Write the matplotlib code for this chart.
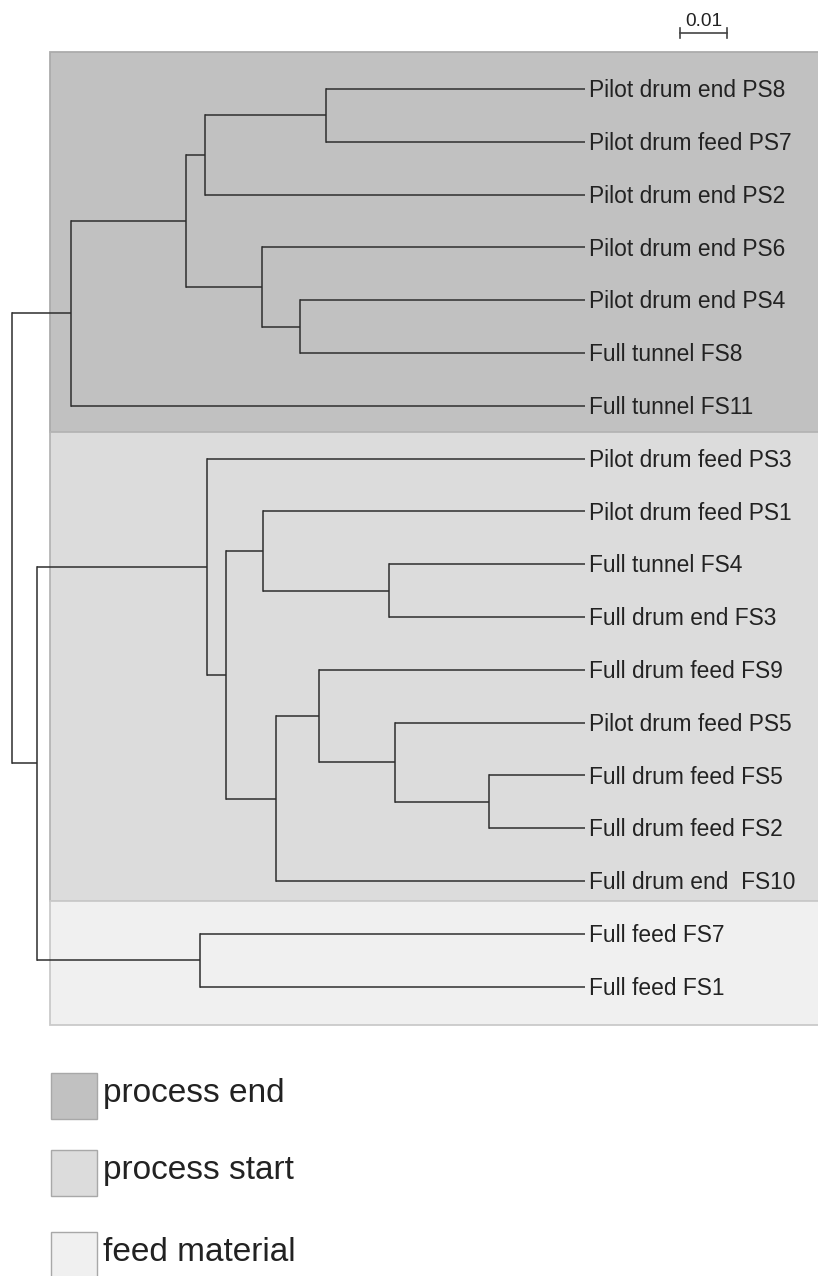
import matplotlib
matplotlib.use("Agg")
import matplotlib.pyplot as plt
from matplotlib.patches import Rectangle
from matplotlib.transforms import Affine2D

# ---------------- data ----------------
labels = [
    "Pilot drum end PS8", "Pilot drum feed PS7", "Pilot drum end PS2",
    "Pilot drum end PS6", "Pilot drum end PS4", "Full tunnel FS8",
    "Full tunnel FS11", "Pilot drum feed PS3", "Pilot drum feed PS1",
    "Full tunnel FS4", "Full drum end FS3", "Full drum feed FS9",
    "Pilot drum feed PS5", "Full drum feed FS5", "Full drum feed FS2",
    "Full drum end  FS10", "Full feed FS7", "Full feed FS1",
]
# linkage-style merges: ids < 18 are leaves, 18+i is the i-th merge
merge_left = [0, 18, 4, 3, 19, 22, 9, 8, 13, 12, 11, 28, 25, 7, 16, 31, 23]
merge_right = [1, 2, 5, 20, 21, 6, 10, 24, 14, 26, 27, 15, 29, 30, 17, 32, 33]
merge_height = [0.0551, 0.0809, 0.0606, 0.0687, 0.0849, 0.1094, 0.0417,
                0.0685, 0.0204, 0.0404, 0.0566, 0.0657, 0.0764, 0.0804,
                0.0819, 0.1166, 0.1219]

group_names = ["process end", "process start", "feed material"]
group_sizes = [7, 9, 2]
group_colors = ["#c1c1c1", "#dcdcdc", "#f0f0f0"]
group_edges = ["#ababab", "#b5b5b5", "#cacaca"]
scale_length = 0.01

# ---------------- figure ----------------
W, H = 818, 1276
fig = plt.figure(figsize=(W / 100, H / 100), dpi=100)
ax = fig.add_axes([0, 0, 1, 1])
ax.set_axis_off()

px_per_unit = 4700.0
tip_px = 585.0
leaf0_px, leaf_step = 89.0, 52.8
ax.set_xlim(tip_px / px_per_unit, (tip_px - W) / px_per_unit)
ax.set_ylim((H - leaf0_px) / leaf_step, -leaf0_px / leaf_step)

FONT = "Liberation Sans"
LINE_C = "#2e2e2e"
LW = 1.1

# group background boxes
box_left = (tip_px - 50) / px_per_unit
box_right = (tip_px - W - 20) / px_per_unit
bounds = [-0.70, 6.50, 15.37, 17.73]
for k in range(len(group_names)):
    y0, y1 = bounds[k], bounds[k + 1]
    ax.add_patch(Rectangle((box_right, y0), box_left - box_right, y1 - y0,
                           facecolor=group_colors[k], edgecolor=group_edges[k],
                           lw=1.3, zorder=0))

# dendrogram
n = len(labels)
pos_y = {i: float(i) for i in range(n)}
pos_h = {i: 0.0 for i in range(n)}
for j, (a, b, h) in enumerate(zip(merge_left, merge_right, merge_height)):
    nid = n + j
    ya, yb = pos_y[a], pos_y[b]
    ax.plot([pos_h[a], h], [ya, ya], color=LINE_C, lw=LW, solid_capstyle="butt", zorder=2)
    ax.plot([pos_h[b], h], [yb, yb], color=LINE_C, lw=LW, solid_capstyle="butt", zorder=2)
    ax.plot([h, h], [ya, yb], color=LINE_C, lw=LW, solid_capstyle="projecting", zorder=2)
    pos_y[nid] = (ya + yb) / 2
    pos_h[nid] = h

# leaf labels
text_off = -4.0 / px_per_unit
for i, lab in enumerate(labels):
    ax.text(text_off, i + 8.2 / leaf_step, lab, ha="left", va="baseline",
            fontsize=16.4, family=FONT, color="#222222", zorder=3)

# scale bar
sb_start = (tip_px - 680) / px_per_unit
sb_y = (33 - leaf0_px) / leaf_step
tick = 5 / leaf_step
ax.plot([sb_start, sb_start - scale_length], [sb_y, sb_y], color="#444444", lw=1.2)
for xx in (sb_start, sb_start - scale_length):
    ax.plot([xx, xx], [sb_y - tick, sb_y + tick], color="#444444", lw=1.2)
ax.text(sb_start - scale_length / 2, sb_y - 3 / leaf_step, "0.01", ha="center",
        va="bottom", fontsize=13.7, family=FONT, color="#222222")

# legend (pixel coordinates, top-down)
pix = Affine2D().scale(1 / W, -1 / H).translate(0, 1) + fig.transFigure
leg_tops = [1073, 1150, 1232]
for k, name in enumerate(group_names):
    t = leg_tops[k]
    fig.patches.append(Rectangle((51, t), 46, 46, transform=pix,
                                 facecolor=group_colors[k], edgecolor="#a8a8a8",
                                 lw=1.0))
    fig.text(103, t + 29, name, transform=pix, ha="left", va="baseline",
             fontsize=24, family=FONT, color="#222222")

fig.savefig("out.png", dpi=100)
